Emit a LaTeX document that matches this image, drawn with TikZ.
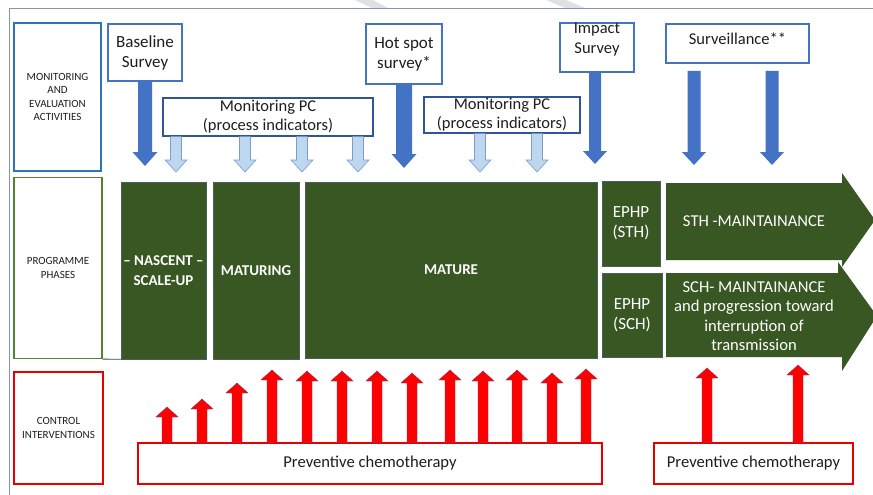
\documentclass[tikz,border=0pt]{standalone}
\usepackage{fontspec}
\setmainfont{Carlito}
\usetikzlibrary{calc}
\definecolor{frm}{RGB}{130,150,180}
\definecolor{lblueb}{RGB}{46,117,182}
\definecolor{lgreenb}{RGB}{84,130,53}
\definecolor{redb}{RGB}{230,0,0}
\definecolor{darkg}{RGB}{56,87,35}
\definecolor{survb}{RGB}{68,114,196}
\definecolor{navyb}{RGB}{47,85,151}
\definecolor{darkarr}{RGB}{68,114,196}
\definecolor{lightarr}{RGB}{189,215,238}
\definecolor{lightarrb}{RGB}{125,155,205}
\definecolor{txt}{RGB}{30,30,30}
\definecolor{stripe}{RGB}{225,225,228}
\definecolor{gedge}{RGB}{75,95,90}
\definecolor{redge}{RGB}{140,50,100}
\definecolor{dline}{RGB}{70,70,70}
\newcommand\DownArr[6]{\path[#1] let \p1=(#2), \p2=(#3) in
  (\x1-#4,\y1) -- (\x1-#4,\y2+#6) -- (\x1-#5,\y2+#6) -- (\x1,\y2) --
  (\x1+#5,\y2+#6) -- (\x1+#4,\y2+#6) -- (\x1+#4,\y1) -- cycle;}
\newcommand\UpArr[6]{\path[#1] let \p1=(#2), \p2=(#3) in
  (\x1-#4,\y1) -- (\x1-#4,\y2-#6) -- (\x1-#5,\y2-#6) -- (\x1,\y2) --
  (\x1+#5,\y2-#6) -- (\x1+#4,\y2-#6) -- (\x1+#4,\y1) -- cycle;}
\tikzset{
  box/.style={rectangle, inner sep=0pt, align=center, text=txt},
  lbl/.style={box, font=\fontsize{11}{13.5}\selectfont, line width=1.2pt, fill=white},
  survbox/.style={box, draw=survb, line width=1.2pt, fill=white, font=\fontsize{17}{20}\selectfont},
  mpcbox/.style={box, draw=navyb, line width=1.2pt, fill=white, font=\fontsize{16.5}{19}\selectfont},
  gbox/.style={box, fill=darkg, draw=gedge, line width=0.5pt, text=white, font=\fontsize{17}{20}\selectfont},
  gbold/.style={gbox, font=\fontsize{15}{19.5}\selectfont\bfseries},
  pcbox/.style={box, draw=redb, line width=1.3pt, fill=white, font=\fontsize{16.6}{19}\selectfont},
  darkarrow/.style={fill=darkarr},
  lightarrow/.style={fill=lightarr, draw=lightarrb, line width=0.6pt},
  redarrow/.style={fill=red, draw=redge, line width=0.4pt},
  bigarrow/.style={fill=darkg},
  wtext/.style={text=white, align=center, font=\fontsize{16.6}{19.5}\selectfont, inner sep=0pt},
}
\begin{document}
\begin{tikzpicture}[x=1pt,y=-1pt]
\useasboundingbox (0,0) rectangle (873,495);
\fill[white] (0,0) rectangle (873,495);
% faint stripes at top
\fill[stripe] (355,0) -- (373,0) -- (388,8) -- (372,8) -- cycle;
\fill[stripe] (546,0) -- (566,0) -- (585,8) -- (565,8) -- cycle;
% frame
\draw[frm, line width=0.8pt] (9,495) -- (9,8) -- (873,8);

% left labels
\node[lbl, draw=lblueb, minimum width=87, minimum height=148] (me) at (57.5,97) {MONITORING\\AND\\EVALUATION\\ACTIVITIES};
\node[lbl, draw=lgreenb, minimum width=88, minimum height=181] (pp) at (58,268) {PROGRAMME\\PHASES};
\node[lbl, draw=redb, minimum width=89, minimum height=112] (ci) at (58.5,428) {CONTROL\\INTERVENTIONS};

% survey boxes
\node[survbox, minimum width=74, minimum height=57] (bs) at (145,52.5) {Baseline\\Survey};
\node[survbox, minimum width=76, minimum height=60] (hs) at (404,54) {Hot spot\\survey*};
\node[survbox, minimum width=74, minimum height=49] (imp) at (597,47.5) {};
\node[box, font=\fontsize{16.5}{20}\selectfont] (impt) at (597,40) {Impact\\Survey};
\node[survbox, minimum width=143, minimum height=39] (sv) at (737.5,43.5) {};
\node[box, font=\fontsize{16.5}{19}\selectfont] (svt) at (737.5,39) {Surveillance**};

% monitoring PC boxes
\node[mpcbox, minimum width=210, minimum height=38] (mpc1) at (268,117) {Monitoring PC\\(process indicators)};
\node[mpcbox, minimum width=156, minimum height=36] (mpc2) at (502,115) {Monitoring PC\\(process indicators)};

% dark blue arrows
\coordinate (tb) at (145,166);
\coordinate (th) at (404,168);
\coordinate (ti) at (595,164);
\coordinate (sv1s) at (694,71);
\coordinate (sv1) at (694,165);
\coordinate (sv2s) at (772,71);
\coordinate (sv2) at (772,165);
\DownArr{darkarrow}{bs.south}{tb}{7pt}{12.5pt}{14pt}
\DownArr{darkarrow}{hs.south}{th}{8pt}{12.5pt}{14pt}
\DownArr{darkarrow}{imp.south -| ti}{ti}{6pt}{12pt}{13pt}
\DownArr{darkarrow}{sv1s}{sv1}{6.5pt}{12pt}{13pt}
\DownArr{darkarrow}{sv2s}{sv2}{6.5pt}{12pt}{13pt}

% light blue arrows
\foreach \x [count=\i] in {176,245,302,358} {
  \coordinate (la\i) at (\x,172);
  \DownArr{lightarrow}{mpc1.south -| la\i}{la\i}{5.5pt}{11pt}{12pt}
}
\foreach \x [count=\i] in {480,537} {
  \coordinate (lb\i) at (\x,172);
  \DownArr{lightarrow}{mpc2.south -| lb\i}{lb\i}{5.5pt}{11pt}{12pt}
}

% phases
\node[gbold, minimum width=85, minimum height=177] (nas) at (163.5,270.5) {-- NASCENT --\\SCALE-UP};
\node[gbold, minimum width=86, minimum height=177] (mat1) at (256,270.5) {MATURING};
\node[gbold, minimum width=292, minimum height=176] (mat) at (451,270) {MATURE};
\node[gbox, minimum width=58, minimum height=85] (e1) at (631,223.5) {EPHP\\(STH)};
\node[gbox, minimum width=60, minimum height=84] (e2) at (632,315) {EPHP\\(SCH)};
\draw[dline, line width=0.8pt] (pp.south east) -- (nas.south west);

% big arrows
\path[bigarrow] (666,183) -- (842,183) -- (842,173) -- (875,220) -- (842,267) -- (842,260) -- (666,260) -- cycle;
\path[bigarrow] (666,273) -- (838,273) -- (838,262) -- (877,316) -- (842,371) -- (842,357) -- (666,357) -- cycle;
\node[wtext] (sth) at (754,221) {STH -MAINTAINANCE};
\node[wtext] (sch) at (754,316) {SCH- MAINTAINANCE\\and progression toward\\interruption of\\transmission};

% control boxes
\node[pcbox, minimum width=464, minimum height=41] (pc1) at (370,463.5) {Preventive chemotherapy};
\node[pcbox, minimum width=199, minimum height=41] (pc2) at (753.5,463.5) {Preventive chemotherapy};

% red arrows
\foreach \x/\y [count=\i] in {167/407,202/399,237/383,272/370,307/371,342/371,377/371,412/373,450/370,483/371,517/370,552/373,586/369} {
  \coordinate (ra\i) at (\x,\y);
  \UpArr{redarrow}{pc1.north -| ra\i}{ra\i}{5pt}{11pt}{10pt}
}
\foreach \x/\y [count=\i] in {707/368,798/365} {
  \coordinate (rb\i) at (\x,\y);
  \UpArr{redarrow}{pc2.north -| rb\i}{rb\i}{5pt}{11pt}{10pt}
}
\end{tikzpicture}
\end{document}
